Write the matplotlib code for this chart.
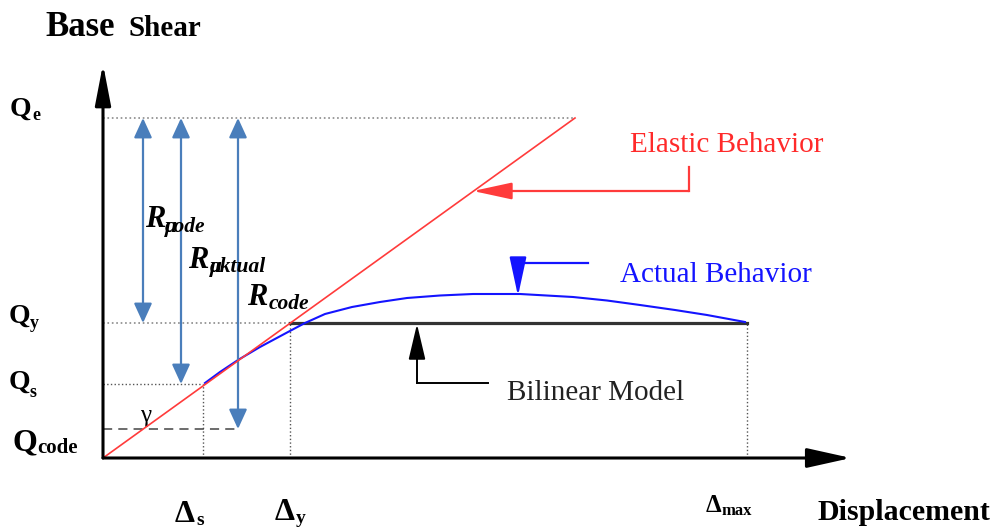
import matplotlib.pyplot as plt
from matplotlib.patches import FancyArrowPatch

plt.rcParams['font.family'] = ['Liberation Serif', 'DejaVu Serif']

# key points of the pushover diagram (displacement, base shear)
d_s, d_y, d_max = 100, 187, 644
q_code, q_s, q_y, q_e = 29, 74, 135, 340
d_e = 472

elastic_d = [0, d_e]
elastic_q = [0, q_e]

bilinear_d = [d_y, d_max]
bilinear_q = [q_y, q_y]

actual_d = [102, 117, 135, 157, 185, 202, 222, 249, 277, 304, 337, 370, 417,
            470, 504, 537, 572, 604, 642]
actual_q = [75, 86, 98, 111, 126, 135, 144, 151, 156, 160, 162.5, 164, 164,
            161, 157.5, 153, 148, 143, 136]

# R factor arrows: x position, lower end
r_arrow_x = [40, 78, 135]
r_arrow_low = [q_y, q_s, q_code]

fig = plt.figure(figsize=(10.04, 5.29), dpi=100)
ax = fig.add_axes([0, 0, 1, 1])
ax.set_xlim(-103, 901)
ax.set_ylim(-71, 458)
ax.set_axis_off()

grey = '#8a8a8a'
steel = '#4a7ebb'
red = '#ff3b3b'
blue = '#1414ff'


def arrow(p0, p1, style, color, lw, z=3):
    ax.add_patch(FancyArrowPatch(p0, p1, arrowstyle=style, color=color,
                                 lw=lw, shrinkA=0, shrinkB=0, zorder=z))


# guide lines
ax.plot([0, d_e], [q_e, q_e], ls=':', color=grey, lw=1.2)
ax.plot([0, d_y], [q_y, q_y], ls=':', color=grey, lw=1.2)
ax.plot([0, d_s], [q_s, q_s], ls=':', color='#555555', lw=1.0)
ax.plot([d_s, d_s], [0, q_s], ls=':', color='#555555', lw=1.0)
ax.plot([d_y, d_y], [0, q_y], ls=':', color='#555555', lw=1.0)
ax.plot([d_max, d_max], [0, q_y], ls=':', color='#555555', lw=1.0)
ax.plot([0, r_arrow_x[2]], [q_code, q_code], ls=(0, (6, 4)),
        color='#444444', lw=1.1)

# curves
ax.plot(bilinear_d, bilinear_q, color='#333333', lw=2.3, zorder=2)
ax.plot(actual_d, actual_q, color=blue, lw=1.5, zorder=3)
ax.plot(elastic_d, elastic_q, color=red, lw=1.2, zorder=4)

# axes with arrow heads
arrow((0, 0), (0, 394), '-|>,head_length=25,head_width=4.8', 'black', 2.2, 5)
arrow((0, 0), (748, 0), '-|>,head_length=27,head_width=6', 'black', 2.2, 5)

# R factor double arrows
for x, low in zip(r_arrow_x, r_arrow_low):
    arrow((x, q_e), (x, low), '<|-|>,head_length=12,head_width=5.5',
          steel, 1.6, 3)

# leaders
ax.plot([586, 586], [291, 267], color=red, lw=1.6)
arrow((586, 267), (370, 267), '-|>,head_length=24,head_width=5.2', red, 1.6)
ax.plot([485, 415], [195, 195], color=blue, lw=1.6)
arrow((415, 195), (415, 162), '-|>,head_length=24,head_width=5.2', blue, 1.6)
ax.plot([385, 314], [75, 75], color='black', lw=1.4)
arrow((314, 75), (314, 134), '-|>,head_length=22,head_width=5.2', 'black', 1.4)

# text labels
ax.text(-58, 422, 'Base', fontsize=25, fontweight='bold')
ax.text(25, 422, 'Shear', fontsize=21, fontweight='bold')
ax.text(715, -62, 'Displacement', fontsize=21.5, fontweight='bold')

ax.text(527, 306, 'Elastic Behavior', fontsize=21, color='#ff2a2a')
ax.text(517, 176, 'Actual Behavior', fontsize=21, color=blue)
ax.text(404, 58, 'Bilinear Model', fontsize=21, color='#222222')

ax.text(-93, 342, 'Q', fontsize=20, fontweight='bold')
ax.text(-71, 338, 'e', fontsize=13, fontweight='bold')
ax.text(-94, 135, 'Q', fontsize=20, fontweight='bold')
ax.text(-73, 130, 'y', fontsize=13, fontweight='bold')
ax.text(-94, 69, 'Q', fontsize=20, fontweight='bold')
ax.text(-73, 61, 's', fontsize=13, fontweight='bold')
ax.text(-90, 8, 'Q', fontsize=23, fontweight='bold')
ax.text(-66, 5, 'code', fontsize=15, fontweight='bold')

ax.text(37, 36, 'γ', fontsize=18)

ax.text(72, -64, 'Δ', fontsize=23, fontweight='bold')
ax.text(93, -67, 's', fontsize=14, fontweight='bold')
ax.text(172, -62, 'Δ', fontsize=23, fontweight='bold')
ax.text(193, -65, 'y', fontsize=14, fontweight='bold')
ax.text(603, -54, 'Δ', fontsize=18, fontweight='bold')
ax.text(619, -57, 'max', fontsize=12, fontweight='bold')

# R factor labels, mu drawn over the first letter of the subscript
r_labels = [('code', 42, 231, 62, 226), ('aktual', 85, 190, 107, 186),
            ('code', 144, 153, 166, 149)]
for i, (sub, xr, yr, xs, ys) in enumerate(r_labels):
    ax.text(xr, yr, 'R', fontsize=22, fontweight='bold', style='italic')
    ax.text(xs, ys, sub, fontsize=15.5, fontweight='bold', style='italic')
    if i < 2:
        ax.text(xs, ys, 'μ', fontsize=15.5, fontweight='bold', style='italic')

fig.savefig('out.png', dpi=100, facecolor='white')
